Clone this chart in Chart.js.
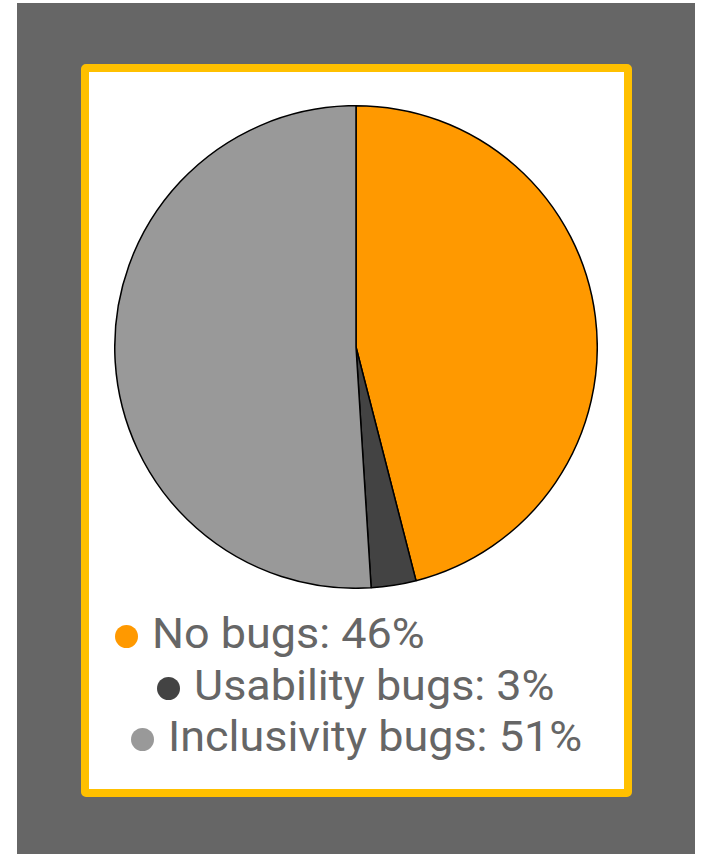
<!DOCTYPE html>
<html>
<head>
<meta charset="utf-8">
<script src="https://cdn.jsdelivr.net/npm/chart.js@4.4.0/dist/chart.umd.min.js"></script>
<style>
  html, body { margin: 0; padding: 0; background: #fff; }
  body { width: 701px; height: 854px; position: relative; overflow: hidden; font-family: Roboto, sans-serif; }
  #backdrop { position: absolute; left: 17px; top: 3px; width: 678px; height: 851px; background: #666666; }
  #frame { position: absolute; left: 81px; top: 64px; width: 535px; height: 717px; background: #fff;
           border: 8px solid #FFC000; border-radius: 5px; }
  #pieBox { position: absolute; left: 114px; top: 105px; width: 484px; height: 484px; }
  .legend-row { position: absolute; height: 43px; white-space: nowrap; color: #666; font-size: 43px; line-height: 43px; }
  .legend-row .dot { position: absolute; width: 23px; height: 23px; border-radius: 50%; top: 13px; }
  .legend-row .label { position: absolute; left: 37px; top: 0; transform: scaleX(1.045); transform-origin: 0 50%; }
</style>
</head>
<body>
<div id="backdrop"></div>
<div id="frame"></div>
<div id="pieBox"><canvas id="pie"></canvas></div>
<div id="legend"></div>
<script>
// Share of sessions by bug type
const categories = ['No bugs', 'Usability bugs', 'Inclusivity bugs'];
const shares = [46, 3, 51];
const sliceColors = ['#FF9900', '#434343', '#999999'];

// where each legend row sits (circle left edge, text baseline)
const legendX = [115, 157, 131];
const legendBaseline = [649, 701, 752];

const chart = new Chart(document.getElementById('pie'), {
  type: 'pie',
  data: {
    labels: categories,
    datasets: [{
      data: shares,
      backgroundColor: sliceColors,
      borderColor: '#000',
      borderWidth: 1.5
    }]
  },
  options: {
    responsive: true,
    maintainAspectRatio: false,
    animation: false,
    layout: { padding: 0 },
    plugins: {
      legend: { display: false },
      tooltip: { enabled: false }
    }
  }
});

// legend built from the chart's own labels and colours
const legendEl = document.getElementById('legend');
chart.data.labels.forEach((label, i) => {
  const row = document.createElement('div');
  row.className = 'legend-row';
  row.style.left = legendX[i] + 'px';
  row.style.top = (legendBaseline[i] - 37) + 'px';
  const dot = document.createElement('span');
  dot.className = 'dot';
  dot.style.background = chart.data.datasets[0].backgroundColor[i];
  const text = document.createElement('span');
  text.className = 'label';
  text.textContent = label + ': ' + chart.data.datasets[0].data[i] + '%';
  row.appendChild(dot);
  row.appendChild(text);
  legendEl.appendChild(row);
});
</script>
</body>
</html>
